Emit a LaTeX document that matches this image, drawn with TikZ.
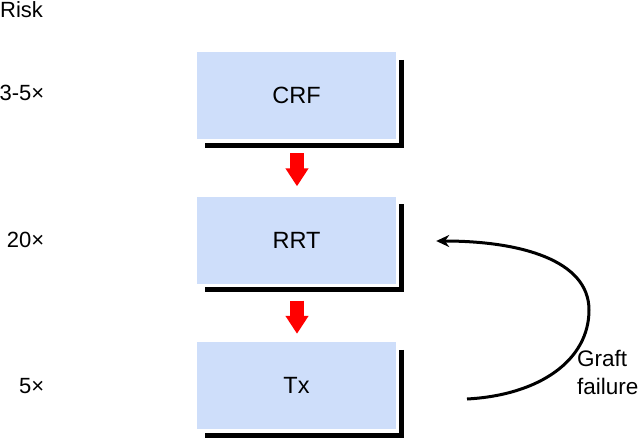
\documentclass[tikz,border=0pt]{standalone}
\usepackage{fontspec}
\setmainfont{Liberation Sans}
\usetikzlibrary{arrows.meta,calc}
\definecolor{boxblue}{RGB}{206,222,250}
\definecolor{arrred}{RGB}{255,0,0}
\begin{document}
\begin{tikzpicture}[x=1pt,y=-1pt,
  stagebox/.style={fill=boxblue,draw=none,minimum width=199pt,minimum height=87pt,inner sep=0pt,font=\fontsize{23.5}{27}\selectfont},
  shadowline/.style={line width=5pt,line join=miter},
  redarrow/.style={draw=arrred,line width=14pt,-{Triangle[width=22pt,length=18pt]}},
  risklabel/.style={anchor=base east,inner sep=0pt,font=\fontsize{22}{26}\selectfont},
  loop/.style={line width=3pt,-{Stealth[length=13pt,width=12pt]}}]
\useasboundingbox (0,0) rectangle (640,437);

\node[stagebox] (crf) at (296.5,95.5) {CRF};
\node[stagebox] (rrt) at (296.5,240) {RRT};
\node[stagebox] (tx) at (296.5,385.5) {Tx};

\foreach \n in {crf,rrt,tx}{
  \draw[shadowline] ($(\n.north east)+(5.5,8)$) -- ($(\n.south east)+(5.5,6)$) -- ($(\n.south west)+(8,6)$);
}

\draw[redarrow,shorten <=14pt,shorten >=10pt] (crf.south) ++(0.5,0) coordinate (a1) (a1) -- (a1 |- rrt.north);
\draw[redarrow,shorten <=17pt,shorten >=8pt] (rrt.south) ++(0.5,0) coordinate (a2) (a2) -- (a2 |- tx.north);

\node[anchor=base west,inner sep=0pt,font=\fontsize{22}{26}\selectfont] (risk) at (0,17) {Risk};
\node[risklabel] (r1) at (44.5,100) {3-5×};
\node[risklabel] (r2) at (44.5,247) {20×};
\node[risklabel] (r3) at (44.5,393) {5×};

\coordinate (gs) at (467,399);
\coordinate (gr) at (589,310);
\coordinate (ge) at ($(rrt.east)+(40,1)$);
\draw[loop] (gs) .. controls (540,395) and (589,360) .. (gr) .. controls (589,260) and (520,241) .. (ge);

\node[anchor=base west,inner sep=0pt,align=left,font=\fontsize{22.5}{28}\selectfont] (gf) at (577,394) {Graft\\failure};
\end{tikzpicture}
\end{document}
